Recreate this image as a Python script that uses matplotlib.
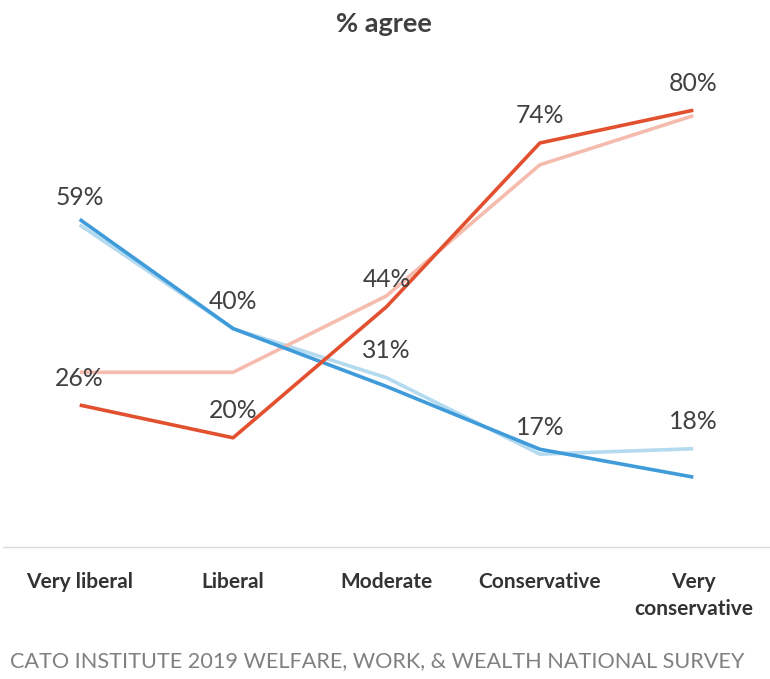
import matplotlib
matplotlib.use("Agg")
import matplotlib.pyplot as plt

categories = ["Very liberal", "Liberal", "Moderate", "Conservative", "Very\nconservative"]
dark_red = [26, 20, 44, 74, 80]
light_red = [32, 32, 46, 70, 79]
dark_blue = [60, 40, 29.4, 17.9, 12.8]
light_blue = [59, 40, 31, 17, 18]

title = "% agree"
footer = "CATO INSTITUTE 2019 WELFARE, WORK, & WEALTH NATIONAL SURVEY"

W, H = 770, 679
fig = plt.figure(figsize=(W / 100, H / 100), dpi=100)
ax = fig.add_axes([3 / W, (H - 547) / H, 1 - 3 / W, (547 - 55.6) / H])

x = list(range(len(categories)))
ax.plot(x, light_blue, color="#b4daf0", lw=2.6, solid_capstyle="butt", zorder=2)
ax.plot(x, light_red, color="#f5bcae", lw=2.6, solid_capstyle="butt", zorder=2)
ax.plot(x, dark_blue, color="#3f9bd9", lw=2.6, solid_capstyle="butt", zorder=3)
ax.plot(x, dark_red, color="#e2502f", lw=2.6, solid_capstyle="butt", zorder=3)

for series in (light_blue, dark_red):
    for xi, v in zip(x, series):
        ax.annotate(f"{v:.0f}%", (xi, v), xytext=(0, 27), textcoords="offset pixels",
                    ha="center", va="center", fontsize=17.8, family="Lato",
                    color="#404040", zorder=4)

ax.set_xlim(-0.5, len(categories) - 0.5)
ax.set_ylim(0, 90)
ax.set_yticks([])
ax.set_xticks(x)
ax.set_xticklabels(categories, fontsize=15, fontweight="bold", family="Lato",
                   color="#333333", linespacing=1.42, va="top")
ax.tick_params(axis="x", length=0, pad=18)
for s in ("top", "right", "left"):
    ax.spines[s].set_visible(False)
ax.spines["bottom"].set_color("#d9d9d9")
ax.spines["bottom"].set_linewidth(1)

fig.text(384 / W, 1 - 24 / H, title, ha="center", va="center", fontsize=19.5,
         fontweight="bold", family="Lato", color="#404040")
fig.text(10 / W, 1 - 661 / H, footer, ha="left", va="center", fontsize=15.6,
         family="Lato", color="#808080")

fig.savefig("out.png", dpi=100)
